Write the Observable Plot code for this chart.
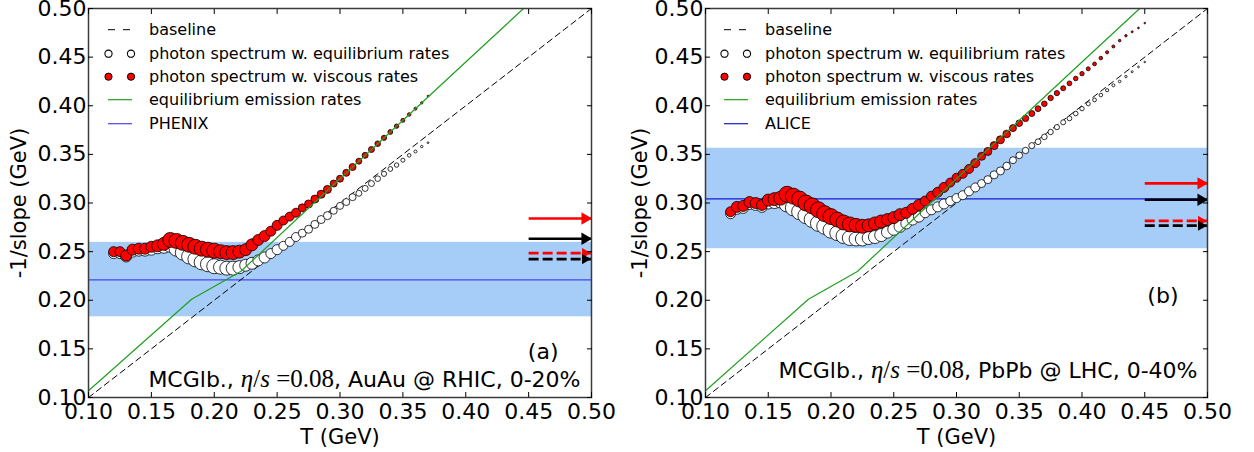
<!DOCTYPE html>
<html>
<head>
<meta charset="utf-8">
<script src="https://cdn.jsdelivr.net/npm/d3@7"></script>
<script src="https://cdn.jsdelivr.net/npm/@observablehq/plot@0.6"></script>
<style>
  html, body { margin: 0; padding: 0; background: #fff; }
  #wrap { position: relative; width: 1254px; height: 452px; display: flex; font-family: "DejaVu Sans", sans-serif; }
  .panel { position: relative; width: 627px; height: 452px; }
  .panel svg.plot { display: block; }
  .legend { position: absolute; font-size: 16px; color: #000; }
  .legend .row { display: flex; align-items: center; height: 23.33px; white-space: nowrap; }
  .legend .row svg { flex: none; }
</style>
</head>
<body>
<div id="wrap"></div>
<script>
// ---------- data ----------
const ticks = [0.10, 0.15, 0.20, 0.25, 0.30, 0.35, 0.40, 0.45, 0.50];
const domainT = [0.1, 0.5];
const domainY = [0.1, 0.5];

const baselineT = [0.1, 0.5];
const baselineY = [0.1, 0.5];

const greenT = [0.100, 0.182, 0.221, 0.300, 0.400, 0.446];
const greenY = [0.107, 0.201, 0.2295, 0.325, 0.445, 0.500];

// (a) AuAu @ RHIC
const T_rhic = [0.120,0.125,0.130,0.135,0.140,0.145,0.150,0.155,0.160,0.165,
  0.170,0.175,0.180,0.185,0.190,0.195,0.200,0.205,0.210,0.215,
  0.220,0.225,0.230,0.235,0.240,0.245,0.250,0.255,0.260,0.265,
  0.270,0.275,0.280,0.285,0.290,0.295,0.300,0.305,0.310,0.315,
  0.320,0.325,0.330,0.335,0.340,0.345,0.350,0.355,0.360,0.365,0.370];
const viscous_rhic = [0.250,0.250,0.246,0.252,0.253,0.253,0.255,0.256,0.258,0.262,
  0.261,0.259,0.257,0.255,0.253,0.252,0.251,0.250,0.249,0.249,
  0.250,0.252,0.257,0.262,0.266,0.271,0.277,0.282,0.286,0.290,
  0.295,0.299,0.304,0.309,0.314,0.320,0.325,0.331,0.337,0.343,
  0.349,0.355,0.361,0.367,0.373,0.379,0.385,0.391,0.397,0.403,0.410];
const equilibrium_rhic = [0.248,0.248,0.245,0.250,0.251,0.251,0.252,0.254,0.255,0.257,
  0.253,0.249,0.245,0.242,0.239,0.237,0.235,0.234,0.233,0.233,
  0.234,0.236,0.238,0.241,0.244,0.248,0.252,0.256,0.260,0.265,
  0.269,0.273,0.278,0.283,0.287,0.292,0.297,0.301,0.306,0.310,
  0.315,0.320,0.325,0.330,0.335,0.339,0.344,0.349,0.353,0.358,0.362];
const weight_rhic = [5.0,5.0,5.5,5.5,5.5,5.5,5.5,6.0,6.5,7.5,
  7.5,7.5,7.5,7.5,7.5,7.5,7.5,7.0,7.0,7.0,
  6.5,6.0,6.0,5.5,5.5,5.0,5.0,4.5,4.5,4.5,
  4.0,4.0,4.0,4.0,4.0,3.5,3.5,3.5,3.5,3.0,
  3.0,3.0,2.8,2.6,2.4,2.2,2.0,1.8,1.5,1.2,0.9];
const phenixBand = [0.183, 0.2595];
const phenixValue = 0.221;
const rhicArrows = [0.284, 0.2633, 0.2485, 0.2423];

// (b) PbPb @ LHC
const T_lhc = [0.120,0.125,0.130,0.135,0.140,0.145,0.150,0.155,0.160,0.165,
  0.170,0.175,0.180,0.185,0.190,0.195,0.200,0.205,0.210,0.215,
  0.220,0.225,0.230,0.235,0.240,0.245,0.250,0.255,0.260,0.265,
  0.270,0.275,0.280,0.285,0.290,0.295,0.300,0.305,0.310,0.315,
  0.320,0.325,0.330,0.335,0.340,0.345,0.350,0.355,0.360,0.365,
  0.370,0.375,0.380,0.385,0.390,0.395,0.400,0.405,0.410,0.415,
  0.420,0.425,0.430,0.435,0.440,0.445,0.450];
const viscous_lhc = [0.291,0.296,0.297,0.301,0.300,0.298,0.303,0.304,0.305,0.309,
  0.307,0.304,0.300,0.297,0.293,0.289,0.286,0.283,0.280,0.278,
  0.277,0.276,0.277,0.279,0.281,0.283,0.285,0.288,0.290,0.294,
  0.298,0.302,0.307,0.311,0.316,0.321,0.326,0.330,0.335,0.341,
  0.348,0.353,0.359,0.365,0.371,0.377,0.382,0.387,0.392,0.397,
  0.402,0.408,0.413,0.418,0.423,0.428,0.433,0.438,0.443,0.449,
  0.455,0.461,0.467,0.472,0.476,0.480,0.485];
const equilibrium_lhc = [0.289,0.294,0.295,0.299,0.298,0.296,0.300,0.301,0.302,0.299,
  0.295,0.291,0.287,0.283,0.279,0.276,0.272,0.269,0.266,0.264,
  0.263,0.263,0.264,0.265,0.267,0.270,0.273,0.276,0.279,0.283,
  0.286,0.290,0.293,0.296,0.299,0.302,0.305,0.308,0.312,0.316,
  0.320,0.324,0.329,0.333,0.338,0.344,0.349,0.354,0.359,0.363,
  0.368,0.373,0.378,0.383,0.387,0.392,0.397,0.402,0.406,0.411,
  0.416,0.421,0.425,0.430,0.435,0.440,0.445];
const weight_lhc = [5.0,5.5,5.5,5.5,5.5,5.5,6.0,6.5,7.0,8.0,
  8.0,8.0,8.0,8.0,8.0,8.0,8.0,7.5,7.5,7.5,
  7.0,7.0,6.5,6.5,6.5,6.0,6.0,6.0,5.5,5.5,
  5.5,5.0,5.0,5.0,5.0,4.5,4.5,4.5,4.5,4.5,
  4.0,4.0,4.0,4.0,3.8,3.5,3.3,3.2,3.0,2.9,
  2.8,2.7,2.6,2.5,2.4,2.3,2.2,2.0,1.9,1.8,
  1.6,1.5,1.3,1.2,1.0,0.9,0.8];
const aliceBand = [0.253, 0.3563];
const aliceValue = 0.3043;
const lhcArrows = [0.3202, 0.3033, 0.2816, 0.2767];

const arrowSeries = ["viscous-solid", "equilibrium-solid", "viscous-dashed", "equilibrium-dashed"];
const arrowFromT = 0.45;

const legendLabels = ["baseline", "photon spectrum w. equilibrium rates", "photon spectrum w. viscous rates", "equilibrium emission rates"];

// ---------- drawing ----------
const fmt = d3.format(".2f");

function panel(cfg) {
  const arrowStyle = {
    "viscous-solid": {color: "#ff0000", dash: null, r: 4.6},
    "equilibrium-solid": {color: "#000000", dash: null, r: 4.6},
    "viscous-dashed": {color: "#ff0000", dash: "10,4", r: 3.8},
    "equilibrium-dashed": {color: "#000000", dash: "10,4", r: 3.8}
  };
  const arrowMarks = [];
  cfg.arrows.forEach((v, i) => {
    const st = arrowStyle[arrowSeries[i]];
    arrowMarks.push(Plot.link([v], {x1: () => arrowFromT, x2: () => domainT[1], y1: d => d, y2: d => d,
      stroke: st.color, strokeWidth: 2.6, strokeDasharray: st.dash}));
    arrowMarks.push(Plot.dot([v], {x: () => domainT[1], y: d => d, symbol: "triangle", rotate: 90,
      r: st.r, fill: st.color, stroke: "none", dx: -6.5}));
  });

  const chart = Plot.plot({
    width: 627, height: 452,
    marginLeft: cfg.ml, marginRight: cfg.mr, marginTop: 8, marginBottom: 55,
    x: {domain: domainT},
    y: {domain: domainY},
    r: {type: "identity"},
    style: {fontFamily: "DejaVu Sans", fontSize: "22px", color: "black", background: "white", overflow: "visible"},
    className: "plot",
    marks: [
      Plot.rect([cfg.band], {x1: () => domainT[0], x2: () => domainT[1], y1: d => d[0], y2: d => d[1], fill: "#a6ccf8"}),
      Plot.ruleY([cfg.value], {stroke: cfg.lineColor, strokeWidth: 1.2}),
      Plot.line(baselineT, {x: baselineT, y: baselineY, stroke: "black", strokeWidth: 1, strokeDasharray: "6,4"}),
      Plot.dot(cfg.T, {x: cfg.T, y: cfg.eq, r: cfg.w, fill: "white", stroke: "black", strokeWidth: 0.8, sort: null}),
      Plot.dot(cfg.T, {x: cfg.T, y: cfg.visc, r: cfg.w, fill: "#ff0000", stroke: "black", strokeWidth: 0.8, sort: null}),
      Plot.line(greenT, {x: greenT, y: greenY, stroke: "#1f9f1f", strokeWidth: 1.2}),
      ...arrowMarks,
      Plot.frame({stroke: "#3a3a3a", strokeWidth: 1.5}),
      Plot.axisX(ticks, {anchor: "bottom", tickSize: -5, tickPadding: 11, tickFormat: fmt, label: null, fontSize: 22}),
      Plot.axisX(ticks, {anchor: "top", tickSize: -5, tickFormat: () => "", label: null}),
      Plot.axisY(ticks, {anchor: "left", tickSize: -5, tickPadding: 7, tickFormat: fmt, label: null, fontSize: 22}),
      Plot.axisY(ticks, {anchor: "right", tickSize: -5, tickFormat: () => "", label: null}),
      Plot.text(["T (GeV)"], {frameAnchor: "bottom", dy: 40, lineAnchor: "middle", textAnchor: "middle", text: d => d, fontSize: 21}),
      Plot.text(["-1/slope (GeV)"], {frameAnchor: "left", dx: cfg.ylabelDx, rotate: -90, textAnchor: "middle", lineAnchor: "middle", text: d => d, fontSize: 21}),
      Plot.text([cfg.tag], {frameAnchor: "bottom-right", dx: cfg.tagDx, dy: cfg.tagDy, textAnchor: "end", lineAnchor: "middle", text: d => d, fontSize: 22}),
      Plot.text([cfg.note.map(p => p[0]).join("")], {frameAnchor: "bottom-right", dx: cfg.noteDx, dy: cfg.noteDy, textAnchor: "end", lineAnchor: "middle", text: d => d, fontSize: 22})
    ]
  });

  // mixed-font annotation (math part in serif)
  const full = cfg.note.map(p => p[0]).join("");
  d3.select(chart).selectAll("text").filter(function() { return this.textContent === full; }).each(function() {
    const t = d3.select(this);
    t.text(null);
    for (const [s, kind] of cfg.note) {
      const ts = t.append("tspan").text(s);
      if (kind === "mi") ts.attr("font-family", "Liberation Serif").attr("font-style", "italic").attr("font-size", 25);
      else if (kind === "mr") ts.attr("font-family", "Liberation Serif").attr("font-size", 25);
    }
  });

  const div = document.createElement("div");
  div.className = "panel";
  div.appendChild(chart);

  // legend
  const lg = document.createElement("div");
  lg.className = "legend";
  lg.style.left = cfg.legendLeft + "px";
  lg.style.top = "18.3px";
  const labels = [...legendLabels, cfg.expName];
  const sym = [
    `<line x1="4" x2="26" y1="11.7" y2="11.7" stroke="black" stroke-width="1" stroke-dasharray="7,8"/>`,
    `<circle cx="4.5" cy="11.7" r="3.6" fill="white" stroke="black" stroke-width="1.1"/><circle cx="27" cy="11.7" r="3.6" fill="white" stroke="black" stroke-width="1.1"/>`,
    `<circle cx="4.5" cy="11.7" r="3.6" fill="#ff0000" stroke="black" stroke-width="1"/><circle cx="27" cy="11.7" r="3.6" fill="#ff0000" stroke="black" stroke-width="1"/>`,
    `<line x1="4" x2="28" y1="11.7" y2="11.7" stroke="#1f9f1f" stroke-width="1.2"/>`,
    `<line x1="4" x2="28" y1="11.7" y2="11.7" stroke="${cfg.lineColor}" stroke-width="1.2"/>`
  ];
  labels.forEach((lab, i) => {
    const row = document.createElement("div");
    row.className = "row";
    row.innerHTML = `<svg width="45" height="23.33">${sym[i]}</svg><span>${lab}</span>`;
    lg.appendChild(row);
  });
  div.appendChild(lg);
  return div;
}

const wrap = document.getElementById("wrap");
wrap.appendChild(panel({
  ml: 88, mr: 36, T: T_rhic, visc: viscous_rhic, eq: equilibrium_rhic, w: weight_rhic,
  band: phenixBand, value: phenixValue, lineColor: "#4646f0", arrows: rhicArrows,
  ylabelDx: -69, tag: "(a)", tagDx: -33, tagDy: -46,
  note: [["MCGlb., ", "t"], ["η", "mi"], ["/", "mr"], ["s", "mi"], [" =", "mr"], ["0.08", "mr"], [", AuAu @ RHIC, 0-20%", "t"]],
  noteDx: -11, noteDy: -17.5, legendLeft: 104, expName: "PHENIX"
}));
wrap.appendChild(panel({
  ml: 78, mr: 47, T: T_lhc, visc: viscous_lhc, eq: equilibrium_lhc, w: weight_lhc,
  band: aliceBand, value: aliceValue, lineColor: "#1818d8", arrows: lhcArrows,
  ylabelDx: -65, tag: "(b)", tagDx: -29, tagDy: -102,
  note: [["MCGlb., ", "t"], ["η", "mi"], ["/", "mr"], ["s", "mi"], [" =", "mr"], ["0.08", "mr"], [", PbPb @ LHC, 0-40%", "t"]],
  noteDx: -10, noteDy: -27, legendLeft: 93, expName: "ALICE"
}));
</script>
</body>
</html>
